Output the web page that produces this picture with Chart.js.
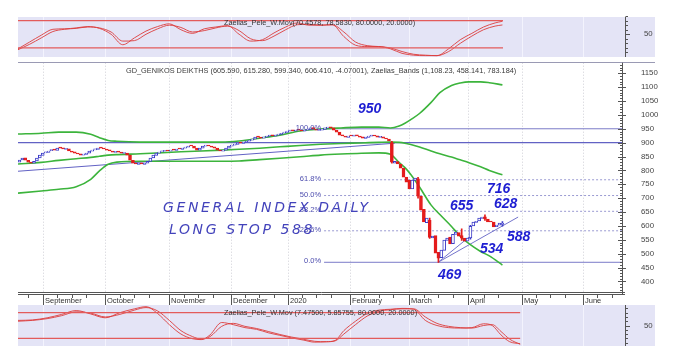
<!DOCTYPE html>
<html><head><meta charset="utf-8">
<script src="https://cdn.jsdelivr.net/npm/chart.js@4.4.1/dist/chart.umd.min.js"></script>
<style>
html,body{margin:0;padding:0;background:#ffffff;}
#wrap{position:relative;width:685px;height:352px;overflow:hidden;background:#ffffff;}
canvas{position:absolute;left:0;top:0;}
</style></head><body>
<div id="wrap">
<canvas id="cTop" width="685" height="352"></canvas>
<canvas id="cMain" width="685" height="352"></canvas>
<canvas id="cBot" width="685" height="352"></canvas>
</div>
<script>
// ---------- DATA ----------
const monthLabels = ['September','October','November','December','2020','February','March','April','May','June'];
const monthIdx = [8.6, 30, 52, 73.1, 92.8, 114.1, 134.5, 154.8, 173.1, 194.1];
const weekIdx = [3.5,13.5,18.5,23.5,35,40,45,57,62,67,78,83,88,97.5,102.5,107.5,119,124,129,139.5,144.5,149.5,160,165,178,183,188,199,204];
const priceTicks = [400,450,500,550,600,650,700,750,800,850,900,950,1000,1050,1100,1150];

const opens = [830,838,845,836,829,826,834,845,854,863, 865,871,874,872,881,881,876,878,870,867,
 862,860,855,858,862,869,874,876,881,880, 877,874,870,865,867,866,861,862,855,836,
 826,822,827,822,826,832,845,854,862,867, 869,871,869,874,872,878,876,880,884,889,
 888,880,873,880,887,891,888,885,880,873, 869,873,880,887,891,894,899,897,902,905,
 909,913,921,920,916,920,923,928,923,927, 930,934,937,941,946,941,946,945,941,945,
 948,954,949,944,945,948,952,957,953,945, 938,928,924,919,925,923,928,924,921,915,
 919,923,927,925,919,921,916,913,
 900,826,832,822,808,776,765,733,764,770, 707,660,612,620,557,565,505,486,512,548,
 560,536,569,576,565,556,545,557,600,613, 618,627,633,625,616,614,597,603,605.6];
const closes = [837,844,837,830,826,833,844,855,862,866, 870,873,873,880,880,877,877,870,866,862,
 859,855,859,862,870,873,877,880,880,877, 873,870,866,866,866,862,862,855,837,826,
 823,826,823,826,833,844,855,862,866,870, 870,870,873,873,877,877,880,884,888,888,
 880,873,880,888,891,888,884,880,873,870, 873,880,888,891,895,898,898,902,906,909,
 913,920,920,916,920,924,927,924,927,931, 934,938,942,945,942,945,945,942,945,949,
 953,949,945,945,949,953,956,953,945,938, 927,924,920,924,924,927,924,920,916,920,
 924,927,924,920,920,916,913,906,
 830,833,823,808,776,758,733,765,772,707, 657,614,628,559,563,502,484,513,549,556,
 535,570,578,563,556,545,556,599,614,617, 628,632,625,614,614,596,603,610,606.4];
const wickIdx  = [128, 137, 141, 144, 152, 155, 160, 166];
const wickLow  = [826, 700, 555, 469, 548, 552, 620, 599.3];
const wickHigh = [905, 775, 628, 505, 590, 602, 640, 615.3];

const bandX   = [0,8,14,20,25,28,31,34,42,56,70,76,83,90,97,104,111,118,124,128,131,133,135,138,142,145,149,152,155,159,162,166.5];
const bandUp  = [931,934,938,938,930,918,908,905,902,902,902,906,916,927,942,949,953,956,956,953,960,970,983,1005,1045,1080,1106,1115,1119,1119,1116,1108];
const bandMid = [823,829,836,842,847,851,855,857,860,867,873,876,880,885,890,894,897,899,901,902,901,898,893,884,870,860,848,838,828,813,800,784];
const bandLow = [718,726,732,741,768,798,822,830,833,833,833,834,839,844,849,855,859,862,863,858,828,810,785,740,675,641,598,563,536,508,492,459];

const trendX = [0, 129.5];      const trendY = [797, 898];
const supp1X = [144.4, 171.9];  const supp1Y = [469, 632];
const supp2X = [144.4, 155.4];  const supp2Y = [469, 563];
const level900 = 900;
const fibLevels = [950, 766.3, 709.5, 652.7, 582.5, 469];
const fibLabels = ['100.0%','61.8%','50.0%','38.2%','23.6%','0.0%'];
const fibStart = 105.2;

const oscTopX = [0,4,8,12,16,20,24,28,32,36,40,44,48,52,56,60,64,68,72,76,80,84,88,92,96,100,104,108,112,116,120,124,128,132,136,140,144,148,152,156,160,164,166.5];
const oscTopK = [18,33,48,61,62,64,67,63,50,27,42,57,67,73,60,52,62,66,69,50,35,38,53,66,75,70,70,71,45,26,23,23,18,8,4,3,3,18,38,52,66,75,78.6];
const oscTopD = [16,28,42,56,61,63,66,64,55,35,36,50,62,70,65,55,58,64,68,58,40,36,46,60,71,72,70,71,55,33,25,23,20,12,6,4,3,12,30,46,60,68,70.5];

const oscBotX = [0,5,10,15,20,25,30,35,40,44,48,52,56,60,63,66,70,74,78,82,86,90,94,98,102,106,109,112,116,120,124,128,132,136,140,144,148,152,156,160,163,166,169,172.6];
const oscBotA = [62,63,68,76,85,77,68,80,89,94,78,52,30,19,17,28,57,52,45,41,33,27,21,16,11,12,15,38,60,78,86,88,90,88,62,50,45,44,45,54,50,28,12,7.5];
const oscBotB = [60,62,66,73,82,79,70,76,86,92,84,62,38,24,18,24,48,55,48,43,36,29,23,18,13,12,14,30,52,72,83,87,89,89,70,55,48,45,44,50,52,36,18,5.9];

const topTitle  = 'Zaelias_Pele_W.Mov(70.4578, 78.5830, 80.0000, 20.0000)';
const botTitle  = 'Zaelias_Pele_W.Mov (7.47500, 5.85755, 80.0000, 20.0000)';
const mainTitle = 'GD_GENIKOS DEIKTHS (605.590, 615.280, 599.340, 606.410, -4.07001), Zaelias_Bands (1,108.23, 458.141, 783.184)';

// ---------- STYLE ----------
const FONT = '"Liberation Sans", Arial, sans-serif';
Chart.defaults.font.family = FONT;
Chart.defaults.color = '#333';
const X_MIN = 0, X_MAX = 207.6;
const PLOT_L = 18, AXIS_W = 63;
const BLUE = '#3c3cc8', RED = '#e41b1b', GREEN = '#3cb43c', LINE_BLUE = '#6262c4';
const LAV = '#e4e4f6';

const pts = (xs, ys) => xs.map((x, i) => ({x, y: ys[i]}));
const up = closes.map((c, i) => c >= opens[i]);

function monthGrid(ctx, x, top, bottom, color, dash) {
  ctx.save(); ctx.strokeStyle = color; ctx.lineWidth = 1; ctx.setLineDash(dash);
  monthIdx.forEach(v => { const px = Math.round(x.getPixelForValue(v)) + 0.5;
    ctx.beginPath(); ctx.moveTo(px, top); ctx.lineTo(px, bottom); ctx.stroke(); });
  ctx.restore();
}

// ---------- MAIN ----------
const mainDecor = {
  id: 'mainDecor',
  beforeDraw(chart) {
    const {ctx, chartArea: a, scales: {x}} = chart;
    ctx.save();
    ctx.fillStyle = '#ffffff'; ctx.fillRect(a.left, a.top, 655 - a.left, a.bottom - a.top);
    ctx.restore();
    monthGrid(ctx, x, a.top, a.bottom, '#cfcfd6', [1, 2]);
  },
  afterDatasetsDraw(chart) {
    const {ctx, chartArea: a, scales: {x, y}} = chart;
    ctx.save();
    // fib labels
    ctx.font = '7.5px ' + FONT; ctx.fillStyle = '#4d4dae'; ctx.textAlign = 'right'; ctx.textBaseline = 'middle';
    fibLevels.forEach((lv, i) => ctx.fillText(fibLabels[i], x.getPixelForValue(fibStart) - 3, y.getPixelForValue(lv) - 1));
    // title
    ctx.font = '7.35px ' + FONT; ctx.fillStyle = '#3a3a3a'; ctx.textAlign = 'left';
    ctx.fillText(mainTitle, 126, 70.7);
    // handwritten note
    ctx.font = 'italic 200 14px "DejaVu Sans"'; ctx.fillStyle = '#4343bb';
    ctx.textBaseline = 'alphabetic';
    if ('letterSpacing' in ctx) ctx.letterSpacing = '2.6px';
    ctx.fillText('GENERAL INDEX DAILY', 163, 212);
    ctx.fillText('LONG STOP 588', 169, 233.5);
    if ('letterSpacing' in ctx) ctx.letterSpacing = '0px';
    // price notes
    ctx.font = 'italic bold 14px ' + FONT; ctx.fillStyle = '#1e1ed2'; ctx.textBaseline = 'middle';
    [['950',358,109],['716',487,189.5],['655',450,206],['628',494,204.5],['588',507,237.5],['534',480,248.7],['469',438,275]]
      .forEach(t => ctx.fillText(t[0], t[1], t[2]));
    ctx.restore();
  },
  afterDraw(chart) {
    const {ctx, chartArea: a, scales: {x, y}} = chart;
    ctx.save();
    ctx.strokeStyle = '#9a9ab4'; ctx.lineWidth = 1;
    ctx.beginPath(); ctx.moveTo(a.left, 62.5); ctx.lineTo(655, 62.5); ctx.stroke();
    ctx.strokeStyle = '#555';
    ctx.beginPath(); ctx.moveTo(a.right + 0.5, a.top); ctx.lineTo(a.right + 0.5, a.bottom + 2); ctx.stroke();
    for (let v = 370; v <= 1180; v += 10) {
      const py = Math.round(y.getPixelForValue(v)) + 0.5;
      const major = v % 50 === 0;
      ctx.beginPath(); ctx.moveTo(a.right - (major ? 4 : 2), py); ctx.lineTo(a.right + (major ? 4 : 1), py); ctx.stroke();
    }
    ctx.beginPath(); ctx.moveTo(a.left, a.bottom + 0.5); ctx.lineTo(a.right + 3, a.bottom + 0.5); ctx.stroke();
    ctx.beginPath(); ctx.moveTo(a.left, a.bottom + 2.5); ctx.lineTo(a.right + 3, a.bottom + 2.5); ctx.stroke();
    monthIdx.forEach(v => { const px = Math.round(x.getPixelForValue(v)) + 0.5;
      ctx.beginPath(); ctx.moveTo(px, a.bottom + 2.5); ctx.lineTo(px, a.bottom + 13); ctx.stroke(); });
    weekIdx.forEach(v => { const px = Math.round(x.getPixelForValue(v)) + 0.5;
      ctx.beginPath(); ctx.moveTo(px, a.bottom + 2.5); ctx.lineTo(px, a.bottom + 6); ctx.stroke(); });
    // month labels
    ctx.font = '7.5px ' + FONT; ctx.fillStyle = '#333'; ctx.textAlign = 'left'; ctx.textBaseline = 'middle';
    monthIdx.forEach((v, i) => ctx.fillText(monthLabels[i], Math.round(x.getPixelForValue(v)) + 2, a.bottom + 8.7));
    ctx.restore();
  }
};

const lineDS = (data, color, width, extra) => Object.assign({type: 'line', data, borderColor: color, borderWidth: width,
  pointRadius: 0, fill: false, tension: 0}, extra || {});

const mainDatasets = [
  {type: 'bar', data: closes.map((c, i) => ({x: i + 0.5, y: [opens[i], c]})),
   backgroundColor: up.map(u => u ? '#ffffff' : RED), borderColor: up.map(u => u ? BLUE : RED),
   borderWidth: 1, borderSkipped: false, barThickness: 3, minBarLength: 1, grouped: false},
  {type: 'bar', data: wickIdx.map((k, i) => ({x: k + 0.5, y: [wickLow[i], wickHigh[i]]})),
   backgroundColor: wickIdx.map(k => up[k] ? BLUE : RED), borderWidth: 0, barThickness: 1, grouped: false},
  lineDS(pts(bandX, bandUp), GREEN, 1.6, {tension: 0.4, cubicInterpolationMode: 'monotone'}),
  lineDS(pts(bandX, bandMid), GREEN, 1.6, {tension: 0.4, cubicInterpolationMode: 'monotone'}),
  lineDS(pts(bandX, bandLow), GREEN, 1.6, {tension: 0.4, cubicInterpolationMode: 'monotone'}),
  lineDS(pts(trendX, trendY), LINE_BLUE, 1),
  lineDS(pts(supp1X, supp1Y), '#7474cc', 1),
  lineDS(pts(supp2X, supp2Y), '#7474cc', 1),
  lineDS([{x: X_MIN, y: level900}, {x: X_MAX, y: level900}], LINE_BLUE, 1.2),
];
fibLevels.forEach((lv, i) => {
  const solid = (i === 0 || i === fibLevels.length - 1);
  mainDatasets.push(lineDS([{x: fibStart, y: lv}, {x: X_MAX, y: lv}], solid ? '#7b7bc8' : '#9a9ad2', 1,
    solid ? {} : {borderDash: [2, 2]}));
});

new Chart(document.getElementById('cMain'), {
  type: 'bar',
  data: {datasets: mainDatasets},
  options: {
    responsive: false, animation: false, events: [],
    layout: {padding: {left: PLOT_L, top: 62.7, right: 0, bottom: 352 - 292}},
    plugins: {legend: {display: false}, tooltip: {enabled: false}},
    scales: {
      x: {type: 'linear', display: false, min: X_MIN, max: X_MAX, offset: false},
      y: {position: 'right', min: 362, max: 1188,
        afterBuildTicks: s => { s.ticks = priceTicks.map(v => ({value: v})); },
        afterFit: s => { s.width = AXIS_W; },
        ticks: {padding: 11, font: {size: 7.8}, color: '#444', callback: v => String(v)},
        grid: {display: false}, border: {display: false}}
    }
  },
  plugins: [mainDecor]
});

// ---------- OSCILLATORS ----------
function oscChart(id, top, bottom, yMin, yMax, xs, a, b, lineEnd, title, titleY) {
  const decor = {
    id: 'osc' + id,
    beforeDraw(chart) {
      const {ctx, chartArea: ar, scales: {x}} = chart;
      ctx.save(); ctx.fillStyle = LAV; ctx.fillRect(ar.left, top, 655 - ar.left, bottom - top); ctx.restore();
      monthGrid(ctx, x, top, bottom, '#f3f3fd', []);
    },
    afterDraw(chart) {
      const {ctx, chartArea: ar, scales: {y}} = chart;
      ctx.save();
      ctx.strokeStyle = '#555'; ctx.lineWidth = 1;
      ctx.beginPath(); ctx.moveTo(ar.right + 3.5, top); ctx.lineTo(ar.right + 3.5, bottom); ctx.stroke();
      for (let v = 10; v <= 90; v += 10) {
        const py = Math.round(y.getPixelForValue(v)) + 0.5;
        ctx.beginPath(); ctx.moveTo(ar.right + 3.5, py); ctx.lineTo(ar.right + (v === 50 ? 8 : 6), py); ctx.stroke();
      }
      ctx.font = '7.8px ' + FONT; ctx.fillStyle = '#444'; ctx.textBaseline = 'middle'; ctx.textAlign = 'left';
      ctx.fillText('50', ar.right + 22, y.getPixelForValue(50));
      ctx.font = '7.3px ' + FONT; ctx.fillStyle = '#333';
      ctx.fillText(title, 224, titleY);
      ctx.restore();
    }
  };
  new Chart(document.getElementById(id), {
    type: 'line',
    data: {datasets: [
      lineDS([{x: X_MIN, y: 80}, {x: lineEnd, y: 80}], '#e35b5b', 1.2),
      lineDS([{x: X_MIN, y: 20}, {x: lineEnd, y: 20}], '#e35b5b', 1.2),
      lineDS(pts(xs, a), '#dc3c3c', 0.9, {tension: 0.4, cubicInterpolationMode: 'monotone'}),
      lineDS(pts(xs, b), '#dc3c3c', 0.9, {tension: 0.4, cubicInterpolationMode: 'monotone'}),
    ]},
    options: {
      responsive: false, animation: false, events: [],
      layout: {padding: {left: PLOT_L, top: top, right: 0, bottom: 352 - bottom}},
      plugins: {legend: {display: false}, tooltip: {enabled: false}},
      scales: {
        x: {type: 'linear', display: false, min: X_MIN, max: X_MAX, offset: false},
        y: {position: 'right', min: yMin, max: yMax,
          afterFit: s => { s.width = AXIS_W; },
          ticks: {display: false},
          grid: {display: false}, border: {display: false}}
      }
    },
    plugins: [decor]
  });
}
oscChart('cTop', 17, 57, 0, 88, oscTopX, oscTopK, oscTopD, 166.7, topTitle, 22.5);
oscChart('cBot', 305, 346, 2, 98, oscBotX, oscBotA, oscBotB, 172.6, botTitle, 313);
</script>
</body></html>
